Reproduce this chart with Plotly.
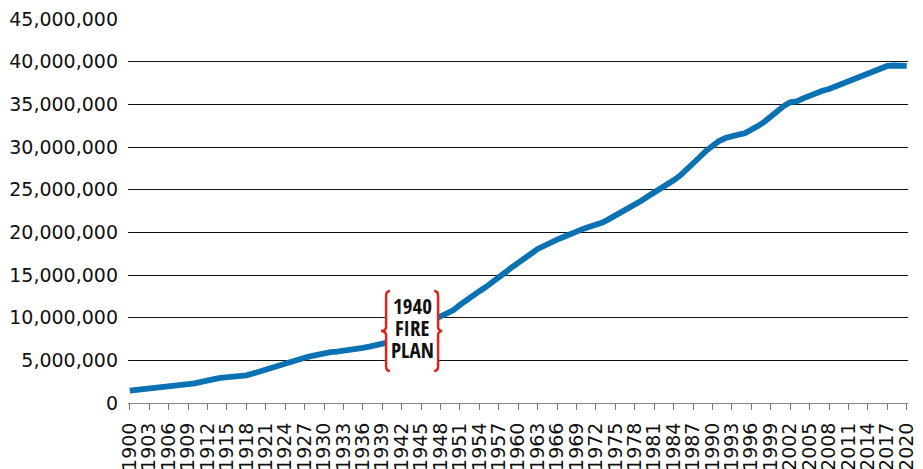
import plotly.graph_objects as go

# California population by year, 1900-2020
years = list(range(1900, 2021))
population = [
    1450000, 1520000, 1560000, 1650000, 1700000, 1800000, 1880000, 1960000, 2100000, 2220000,   # 1900s
    2300000, 2520000, 2680000, 2800000, 2950000, 3000000, 3100000, 3180000, 3250000, 3450000,   # 1910s
    3700000, 3950000, 4200000, 4400000, 4700000, 4950000, 5150000, 5300000, 5500000, 5700000,   # 1920s
    5850000, 5950000, 6020000, 6100000, 6180000, 6300000, 6450000, 6600000, 6750000, 6920000,   # 1930s
    7050000, 7300000, 7750000, 8300000, 8700000, 9050000, 9400000, 9750000, 10150000, 10500000, # 1940s
    10900000, 11500000, 12100000, 12600000, 13100000, 13600000, 14100000, 14700000, 15300000, 15900000,  # 1950s
    16500000, 17000000, 17500000, 18050000, 18450000, 18800000, 19150000, 19450000, 19800000, 20100000,  # 1960s
    20400000, 20650000, 20850000, 21150000, 21550000, 21950000, 22350000, 22800000, 23250000, 23700000,  # 1970s
    24200000, 24650000, 25100000, 25600000, 26100000, 26650000, 27300000, 28100000, 28800000, 29550000,  # 1980s
    30200000, 30700000, 31050000, 31300000, 31450000, 31600000, 31950000, 32450000, 32950000, 33600000,  # 1990s
    34350000, 34800000, 35250000, 35350000, 35700000, 36050000, 36250000, 36600000, 36800000, 37100000,  # 2000s
    37450000, 37700000, 38000000, 38350000, 38700000, 39000000, 39300000, 39500000, 39550000, 39550000,  # 2010s
    39500000,                                                                                   # 2020
]

tick_years = list(range(1900, 2021, 3))
tick_labels = [str(y) for y in tick_years]

y_ticks = list(range(0, 45_000_001, 5_000_000))
y_labels = [f"{v:,}" for v in y_ticks]

note_lines = ["1940", "FIRE", "PLAN"]
note_year = 1943.6
note_value = 8.45e6

LINE_BLUE = "#0a71b3"
BRACE_RED = "#e2231a"
TICK_FONT = "DejaVu Sans"
NOTE_FONT = "Open Sans Condensed, Roboto Condensed, Noto Sans Condensed, Open Sans, sans-serif"

fig = go.Figure()
fig.add_trace(go.Scatter(
    x=years, y=population, mode="lines",
    line=dict(color=LINE_BLUE, width=5.8),
    hoverinfo="skip", showlegend=False,
))

# Callout: white panel with curly braces, anchored in data space, sized in pixels
anchor = dict(xref="x", yref="y", xsizemode="pixel", ysizemode="pixel",
              xanchor=note_year, yanchor=note_value, layer="above")
fig.add_shape(type="rect", x0=-26, x1=26, y0=-40, y1=40,
              fillcolor="white", line=dict(width=0), **anchor)
left_brace = ("M -22,40 Q -26,40 -26,35 L -26,4 Q -26,0.5 -31,0 "
              "Q -26,-0.5 -26,-4 L -26,-35 Q -26,-40 -22,-40")
right_brace = ("M 22,40 Q 26,40 26,35 L 26,4 Q 26,0.5 30,0 "
               "Q 26,-0.5 26,-4 L 26,-35 Q 26,-40 22,-40")
for p in (left_brace, right_brace):
    fig.add_shape(type="path", path=p, line=dict(color=BRACE_RED, width=2.5), **anchor)

for text, shift in zip(note_lines, (25, 3, -19)):
    fig.add_annotation(
        x=note_year, y=note_value, xref="x", yref="y", text=text, showarrow=False,
        yshift=shift, height=18, borderpad=0,
        font=dict(family=NOTE_FONT, size=21, color="#111", weight="bold"),
    )

fig.update_layout(
    width=923, height=469,
    margin=dict(l=128, r=15, t=19, b=66),
    paper_bgcolor="white", plot_bgcolor="white",
    showlegend=False,
    xaxis=dict(
        range=[1899.72, 2020.2],
        tickmode="array", tickvals=tick_years, ticktext=tick_labels,
        tickangle=-90, ticks="outside", ticklen=6, tickcolor="#777", tickwidth=1,
        showline=True, linecolor="#888", linewidth=1,
        showgrid=False, zeroline=False, automargin=False,
        tickfont=dict(family=TICK_FONT, size=19, color="#111"),
        ticklabelstandoff=5,
    ),
    yaxis=dict(
        range=[0, 45e6],
        tickmode="array", tickvals=y_ticks, ticktext=y_labels,
        showgrid=True, gridcolor="#111", gridwidth=1,
        zeroline=False, showline=False, ticks="", automargin=False,
        tickfont=dict(family=TICK_FONT, size=19, color="#111"),
        ticklabelstandoff=9,
    ),
)

# Condensed width for the callout lettering
condense = (
    "document.querySelectorAll('.annotation-text').forEach(function(t){"
    "t.style.fontStretch='62.5%';});"
)
fig.write_html("out.html", post_script=condense)
